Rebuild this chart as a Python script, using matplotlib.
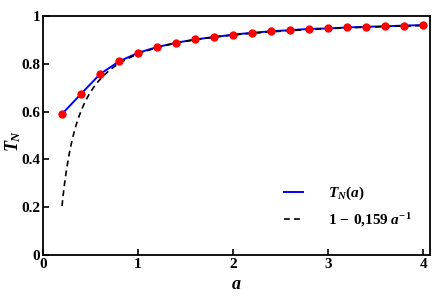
import matplotlib
matplotlib.use("Agg")
import matplotlib.pyplot as plt
import numpy as np

# valores
a_vals = [0.2, 0.4, 0.6, 0.8, 1.0, 1.2, 1.4, 1.6, 1.8, 2.0,
          2.2, 2.4, 2.6, 2.8, 3.0, 3.2, 3.4, 3.6, 3.8, 4.0]
tn_vals = [0.590, 0.674, 0.757, 0.810, 0.846, 0.870, 0.888, 0.902, 0.912, 0.922,
           0.930, 0.936, 0.941, 0.946, 0.948, 0.952, 0.955, 0.957, 0.960, 0.962]
# curva de ajuste 1 - c/a
fit_coef = 0.159
a_fit_min, a_fit_max = 0.2, 4.0

xticks = [0, 1, 2, 3, 4]
yticks = [0, 0.2, 0.4, 0.6, 0.8, 1]
ytick_labels = ["0", "0.2", "0.4", "0.6", "0.8", "1"]

plt.rcParams['font.family'] = ['Liberation Serif', 'DejaVu Serif']
plt.rcParams['font.weight'] = 'bold'
plt.rcParams['mathtext.fontset'] = 'custom'
plt.rcParams['mathtext.rm'] = 'Liberation Serif:bold'
plt.rcParams['mathtext.it'] = 'Liberation Serif:italic:bold'
plt.rcParams['mathtext.bf'] = 'Liberation Serif:bold'

fig = plt.figure(figsize=(4.32, 3.02), dpi=100)
ax = fig.add_axes([43/432, 1 - 255/302, (430-43)/432, (255-16)/302])

a_fit = np.linspace(a_fit_min, a_fit_max, 300)
ax.plot(a_vals, tn_vals, color='blue', lw=1.4, label=r'$T_N(a)$', zorder=2)
ax.plot(a_fit, 1 - fit_coef / a_fit, 'k--', lw=1.2, dashes=(3.5, 2.5),
        label=r'$\mathrm{1\,-\,0{,}159}\ a^{-1}$', zorder=3)
ax.plot(a_vals, tn_vals, 'o', color='red', ms=5, mec='red', zorder=4)

ax.set_xlim(0, 4.07)
ax.set_ylim(0, 1)
ax.set_xticks(xticks)
ax.set_xticklabels([str(t) for t in xticks])
ax.set_yticks(yticks)
ax.set_yticklabels(ytick_labels)
ax.tick_params(direction='in', length=4, width=1.2, labelsize=11, pad=2)
for s in ax.spines.values():
    s.set_linewidth(1.3)

ax.set_xlabel(r'$a$', fontsize=13, labelpad=4)
ax.set_ylabel(r'$T_N$', fontsize=13)
ax.yaxis.set_label_coords(-0.052, 0.48)

leg = ax.legend(loc='lower right', bbox_to_anchor=(0.988, 0.05), frameon=False,
                fontsize=11, handlelength=1.25, handletextpad=1.6, labelspacing=0.6)

plt.savefig("out.png", dpi=100)
